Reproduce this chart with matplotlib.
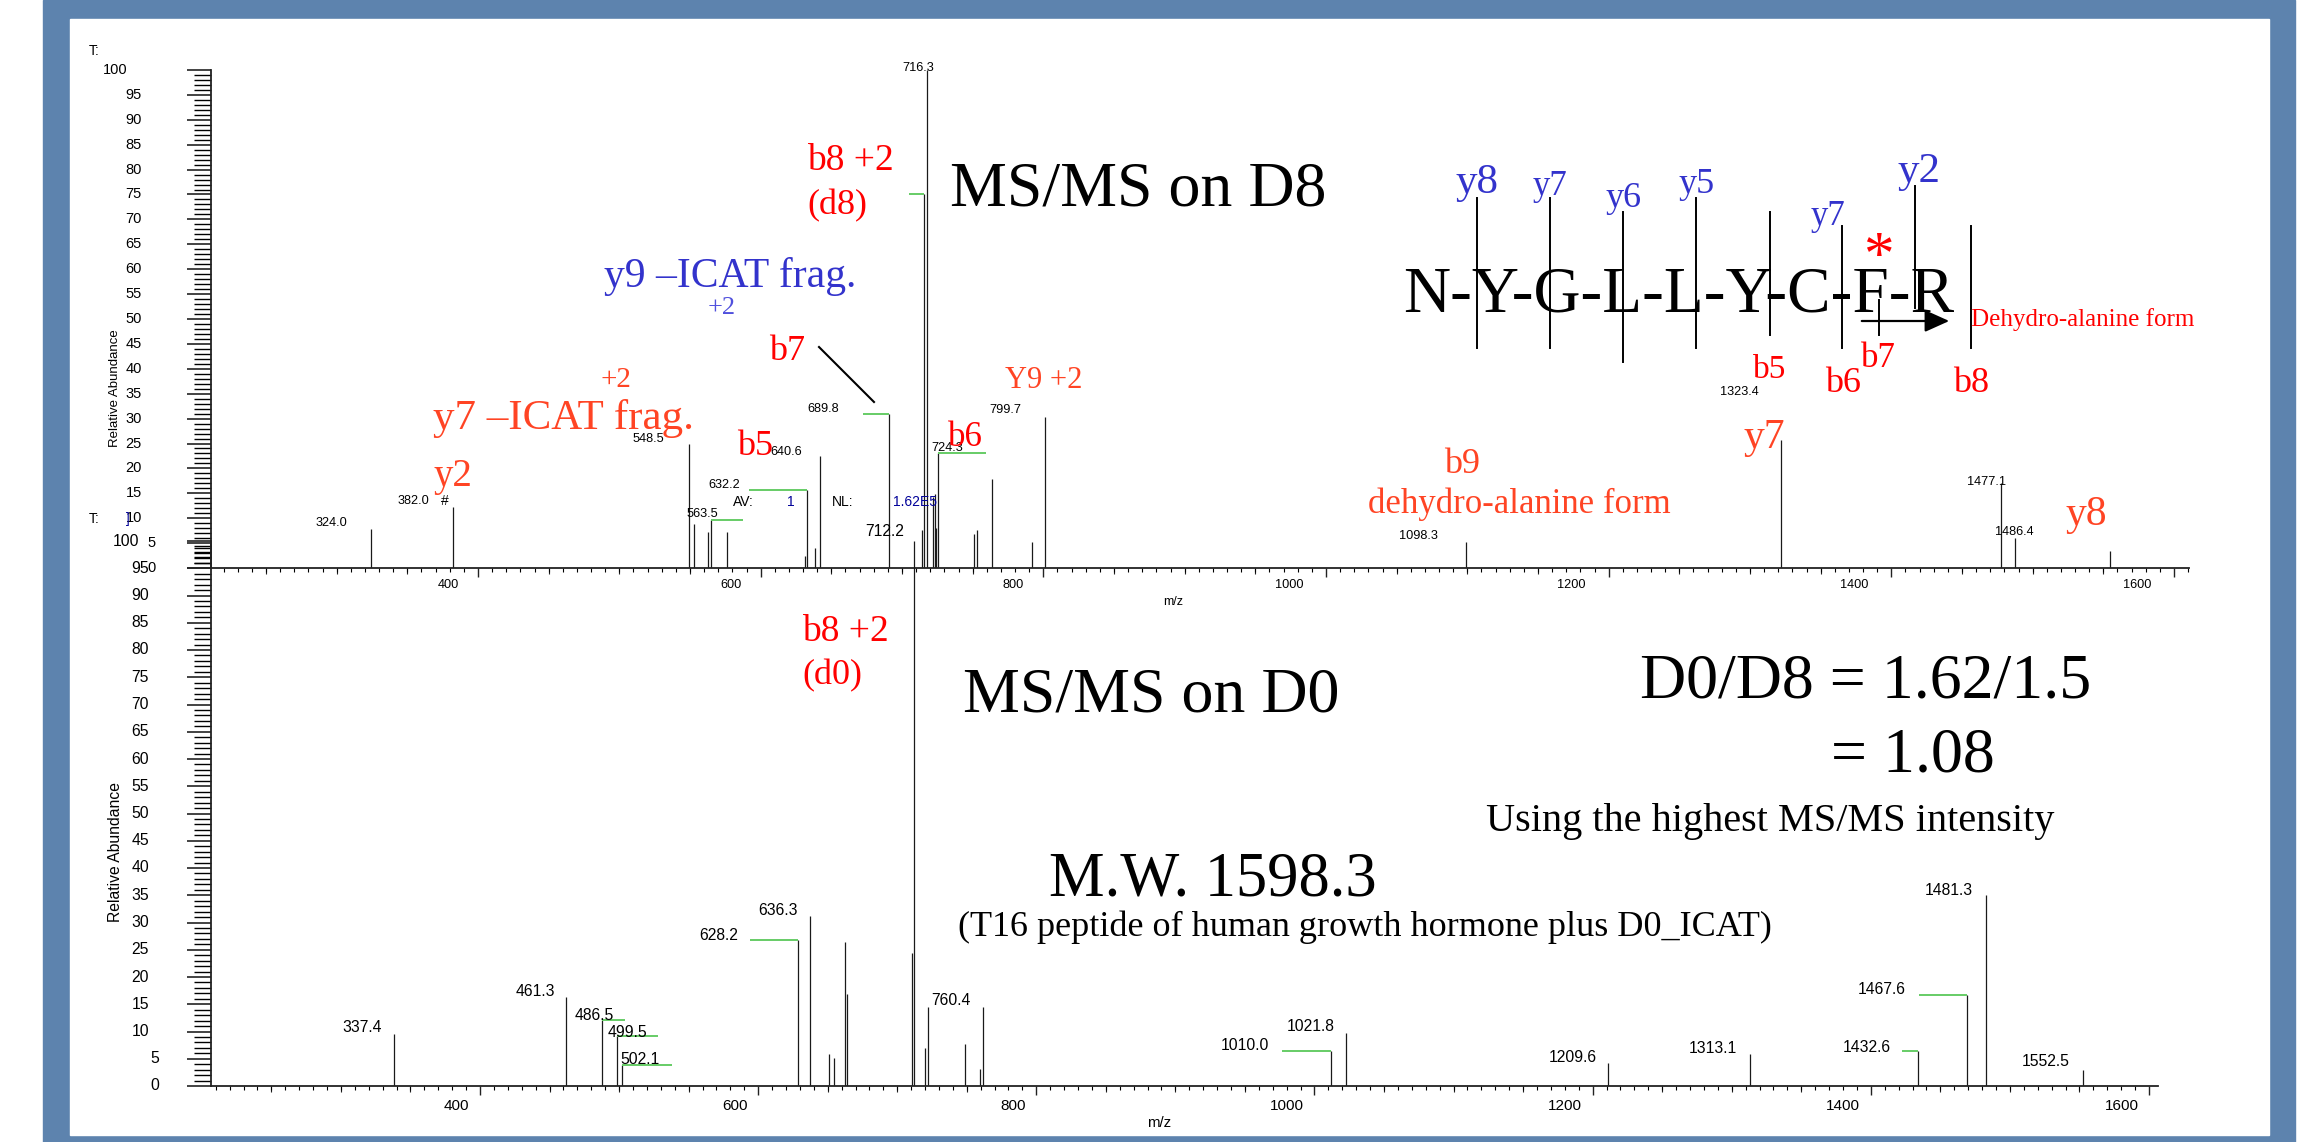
import matplotlib.pyplot as plt
from matplotlib.patches import Rectangle, FancyArrowPatch
from matplotlib.lines import Line2D
from matplotlib.ticker import MultipleLocator

W, H, DPI = 2314, 1142, 100
PT = 72.0 / DPI   # points per pixel

# ---- MS/MS on D8 (top spectrum) ----
d8_mz = [324.3, 382.3, 549.3, 552.8, 562.9, 565.0, 576.2, 631.1, 632.8, 638.5,
         642.3, 690.7, 714.4, 715.9, 717.7, 721.7, 723.1, 724.1, 725.7, 751.0,
         752.8, 763.9, 791.7, 801.1, 1099.3, 1322.0, 1477.3, 1487.3, 1554.6]
d8_int = [7.8, 12.2, 24.9, 8.9, 7.2, 9.7, 7.2, 2.5, 15.7, 4.0,
          22.4, 31.0, 7.6, 75.2, 100.0, 14.2, 14.9, 8.0, 23.0, 6.9,
          7.6, 17.8, 5.3, 30.4, 5.3, 25.7, 17.0, 6.0, 3.5]
d8_labels = ['324.0', '382.0', '548.5', '563.5', '632.2', '640.6', '689.8',
             '716.3', '724.3', '799.7', '1098.3', '1323.4', '1477.1', '1486.4']
d8_label_mz = [324.3, 382.3, 549.3, 565.0, 632.8, 642.3, 690.7,
               717.7, 725.7, 801.1, 1099.3, 1322.0, 1477.3, 1487.3]

# ---- MS/MS on D0 (bottom spectrum) ----
d0_mz = [338.1, 462.1, 487.7, 498.7, 502.4, 629.0, 637.1, 650.6, 654.3, 662.4,
         664.2, 710.4, 712.3, 720.3, 722.1, 748.9, 759.5, 761.4, 1011.6, 1022.9,
         1211.2, 1313.4, 1434.2, 1469.0, 1482.8, 1552.4]
d0_int = [9.6, 16.3, 12.2, 9.2, 3.9, 26.8, 31.2, 5.9, 5.1, 26.5,
          16.8, 24.4, 100.0, 7.0, 14.5, 7.7, 3.2, 14.5, 6.4, 9.8,
          4.3, 5.8, 6.4, 16.7, 35.0, 3.0]
d0_labels = ['337.4', '461.3', '486.5', '499.5', '502.1', '628.2', '636.3', '712.2',
             '760.4', '1010.0', '1021.8', '1209.6', '1313.1', '1432.6', '1467.6',
             '1481.3', '1552.5']
d0_label_mz = [338.1, 462.1, 487.7, 498.7, 502.4, 629.0, 637.1, 712.3,
               761.4, 1011.6, 1022.9, 1211.2, 1313.4, 1434.2, 1469.0,
               1482.8, 1552.4]

mz_ticks = [400, 600, 800, 1000, 1200, 1400, 1600]

SANS = ['Liberation Sans', 'DejaVu Sans']
SERIF = ['Liberation Serif', 'DejaVu Serif']
RED = '#ff0000'
ORANGE = '#ff4424'
BLUE = '#3333cc'
BLUE2 = '#5050dd'
NAVY = '#000099'
GREEN = '#66cc66'
FRAME = '#5d83ae'
INK = '#1a1a1a'


def ftext(x, y, s, **kw):
    kw.setdefault('family', SERIF)
    return fig.text(x / W, 1 - y / H, s, **kw)


def fline(xs, ys, **kw):
    fig.add_artist(Line2D([x / W for x in xs], [1 - y / H for y in ys], **kw))


fig = plt.figure(figsize=(W / DPI, H / DPI), dpi=DPI)
fig.patches.append(Rectangle((43 / W, 0), 2252 / W, 1, transform=fig.transFigure,
                             color=FRAME, zorder=-10))
fig.patches.append(Rectangle((70 / W, 1 - 1135 / H), 2199 / W, 1116 / H,
                             transform=fig.transFigure, color='white', zorder=-9))


def spectrum(left, right, y0, y100, xlim, mz, inten, labels, label_mz, offsets,
             leaders, fs_peak, fs_tick, ylab_right, ylab_step, xlab_dx, xlab_dy, fs_y):
    ax = fig.add_axes([left / W, 1 - y0 / H, (right - left) / W, (y0 - y100) / H])
    ax.patch.set_alpha(0)
    ax.set_xlim(*xlim)
    ax.set_ylim(0, 100)
    for s in ('top', 'right'):
        ax.spines[s].set_visible(False)
    for s in ('left', 'bottom'):
        ax.spines[s].set_color('#222222')
        ax.spines[s].set_linewidth(1.3)
    ax.set_xticks(mz_ticks)
    ax.xaxis.set_minor_locator(MultipleLocator(10))
    ax.set_yticks(range(0, 101, 5))
    ax.yaxis.set_minor_locator(MultipleLocator(1))
    ax.tick_params(labelbottom=False, labelleft=False, colors='#222222')
    ax.tick_params(axis='x', which='major', length=9 * PT, width=1.0)
    ax.tick_params(axis='x', which='minor', length=4 * PT, width=0.8)
    ax.tick_params(axis='y', which='major', length=24 * PT, width=1.2)
    ax.tick_params(axis='y', which='minor', length=17 * PT, width=1.0)
    sec = ax.secondary_xaxis('bottom')
    sec.set_xticks([v for v in range(250, 1601, 50) if v % 200])
    sec.tick_params(length=6 * PT, width=0.8, labelbottom=False, colors='#222222')
    sec.spines['bottom'].set_visible(False)

    ax.vlines(mz, 0, inten, colors=INK, lw=0.9)

    ppu = (right - left) / (xlim[1] - xlim[0])
    pk = dict(zip(mz, inten))
    for m, length in leaders.items():
        h = pk[m]
        ax.plot([m, m + length / ppu], [h, h], color=GREEN, lw=1.4, solid_capstyle='butt')

    for lab, m in zip(labels, label_mz):
        dx, dy = offsets[lab]
        ax.annotate(lab, xy=(m, pk[m]), xytext=(dx * PT, dy * PT),
                    textcoords='offset points', ha='center', va='center',
                    fontsize=fs_peak, family=SANS, annotation_clip=False)

    for v in range(0, 101, 5):
        n = len(str(v))
        r = ylab_right - ylab_step * (n - 1)
        ax.annotate(str(v), xy=(0, v), xycoords=('axes fraction', 'data'),
                    xytext=((r - left) * PT, 0), textcoords='offset points',
                    ha='right', va='center', fontsize=fs_y, family=SANS,
                    annotation_clip=False)

    for v in mz_ticks:
        n = len(str(v))
        ax.annotate(str(v), xy=(v, 0), xycoords=('data', 'axes fraction'),
                    xytext=(xlab_dx[n - 3] * PT, -xlab_dy * PT), textcoords='offset points',
                    ha='center', va='center', fontsize=fs_tick, family=SANS,
                    annotation_clip=False)
    return ax


top_offsets = {'324.0': (-40, 6), '382.0': (-40, 6), '548.5': (-41, 5), '563.5': (-9, 6),
               '632.2': (-83, 5), '640.6': (-34, 4), '689.8': (-66, 5), '716.3': (-9, 2),
               '724.3': (9, 5), '799.7': (-40, 7), '1098.3': (-48, 6), '1323.4': (-42, 48),
               '1477.1': (-14, 1), '1486.4': (0, 6)}
top_leaders = {565.0: 32, 632.8: -58, 690.7: -26, 715.9: -15, 725.7: 48}
bot_offsets = {'337.4': (-32, 6), '461.3': (-31, 6), '486.5': (-8, 4), '499.5': (10, 3),
               '502.1': (18, 5), '628.2': (-80, 4), '636.3': (-32, 5), '712.2': (-30, 10),
               '760.4': (-32, 6), '1010.0': (-86, 6), '1021.8': (-36, 6), '1209.6': (-35, 5),
               '1313.1': (-37, 6), '1432.6': (-52, 4), '1467.6': (-85, 5), '1481.3': (-37, 5),
               '1552.5': (-37, 8)}
bot_leaders = {487.7: 23, 498.7: 41, 502.4: 50, 629.0: -48, 1011.6: -49, 1434.2: -16, 1469.0: -48}

ax_top = spectrum(211, 2189, 568, 70, (211.1, 1610.6), d8_mz, d8_int, d8_labels, d8_label_mz,
                  top_offsets, top_leaders, 9.2, 9.2, 156, 14, (-30, -37), 17, 10.5)
ax_bot = spectrum(211, 2158, 1086, 541, (206.6, 1606.5), d0_mz, d0_int, d0_labels, d0_label_mz,
                  bot_offsets, bot_leaders, 11.3, 11, 159, 10, (-23.5, -27.5), 20, 11.3)

# axis captions and instrument header text
ftext(1173, 602, 'm/z', family=SANS, fontsize=9, ha='center', va='center')
ftext(1159, 1123, 'm/z', family=SANS, fontsize=10.8, ha='center', va='center')
ftext(115, 388, 'Relative Abundance', family=SANS, fontsize=9.5, rotation=90,
      ha='center', va='center')
ftext(115, 852, 'Relative Abundance', family=SANS, fontsize=11.3, rotation=90,
      ha='center', va='center')
ftext(89, 51, 'T:', family=SANS, fontsize=10, va='center')
ftext(89, 519, 'T:', family=SANS, fontsize=10, va='center')
ftext(128, 519, ']', family=SANS, fontsize=10, va='center', ha='center', color=NAVY)
ftext(733, 502, 'AV:', family=SANS, fontsize=10, va='center')
ftext(791, 502, '1', family=SANS, fontsize=10, va='center', ha='center', color=NAVY)
ftext(832, 502, 'NL:', family=SANS, fontsize=10, va='center')
ftext(893, 502, '1.62E5', family=SANS, fontsize=10, va='center', color=NAVY)
ftext(445, 501, '#', family=SANS, fontsize=10, va='center', ha='center')

# fragment annotations (left x, baseline y, text, size, colour)
notes = [
    (604, 287, 'y9 \u2013ICAT frag.', 30, BLUE),
    (708, 314, '+2', 19, BLUE2),
    (769, 360, 'b7', 26, RED),
    (601, 387, '+2', 21, ORANGE),
    (433, 429, 'y7 \u2013ICAT frag.', 31, ORANGE),
    (433, 486, 'y2', 28, ORANGE),
    (737, 455, 'b5', 26, RED),
    (807, 170, 'b8 +2', 27, RED),
    (807, 214, '(d8)', 26, RED),
    (950, 205, 'MS/MS on D8', 46, 'black'),
    (1005, 388, 'Y9 +2', 22, ORANGE),
    (948, 446, 'b6', 25, RED),
    (1444, 473, 'b9', 26, ORANGE),
    (1368, 513, 'dehydro-alanine form', 25, ORANGE),
    (1743, 448, 'y7', 30, ORANGE),
    (2066, 525, 'y8', 30, ORANGE),
    (802, 641, 'b8 +2', 27, RED),
    (802, 684, '(d0)', 26, RED),
    (963, 711, 'MS/MS on D0', 46, 'black'),
    (1049, 895, 'M.W. 1598.3', 45, 'black'),
    (958, 936, '(T16 peptide of human growth hormone plus D0_ICAT)', 26, 'black'),
    (1640, 697, 'D0/D8 = 1.62/1.5', 46, 'black'),
    (1831, 772, '= 1.08', 46, 'black'),
    (1486, 831, 'Using the highest MS/MS intensity', 29, 'black'),
    # peptide sequence with fragment ladders
    (1403, 312, 'N-Y-G-L-L-Y-C-F-R', 47, 'black'),
    (1455, 193, 'y8', 31, BLUE),
    (1533, 195, 'y7', 25, BLUE),
    (1605, 207, 'y6', 26, BLUE),
    (1678, 193, 'y5', 26, BLUE),
    (1811, 225, 'y7', 25, BLUE),
    (1898, 182, 'y2', 31, BLUE),
    (1753, 378, 'b5', 24, RED),
    (1825, 392, 'b6', 26, RED),
    (1861, 367, 'b7', 25, RED),
    (1953, 392, 'b8', 26, RED),
    (1971, 326, 'Dehydro-alanine form', 18, RED),
]
for x, y, s, size, col in notes:
    ftext(x, y, s, fontsize=size, color=col, ha='left', va='baseline')

ftext(1878, 273, '*', fontsize=44, color=RED, ha='center', va='baseline')

# cleavage marks on the sequence (x, top, bottom)
for x, y0, y1 in [(1477, 198, 348), (1550, 198, 348), (1623, 212, 362), (1696, 198, 348),
                  (1770, 212, 335), (1842, 226, 348), (1915, 186, 308), (1971, 226, 348),
                  (1879, 300, 335)]:
    fline([x, x], [y0, y1], color='black', lw=1.4)

fig.add_artist(FancyArrowPatch((1859 / W, 1 - 321 / H), (1952 / W, 1 - 321 / H),
                               transform=fig.transFigure, arrowstyle='-|>,head_length=1.0,head_width=0.45',
                               mutation_scale=15, color='black', lw=1.6))
fline([819, 874], [347, 402], color='black', lw=1.5)

fig.savefig('out.png', dpi=DPI)
